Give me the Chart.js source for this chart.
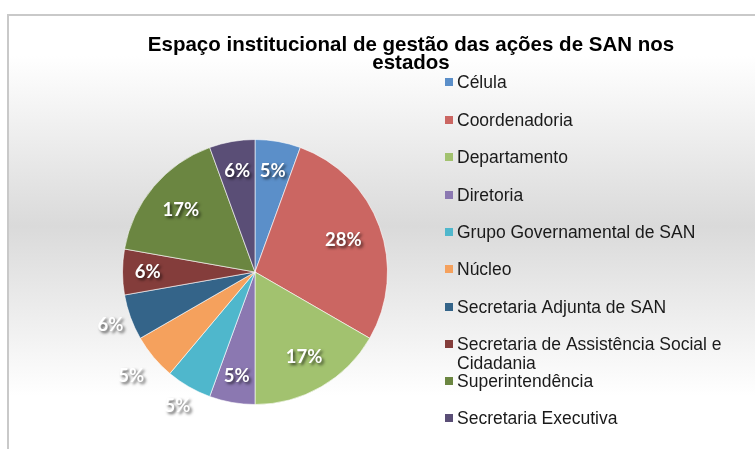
<!DOCTYPE html>
<html>
<head>
<meta charset="utf-8">
<script src="https://cdn.jsdelivr.net/npm/chart.js@4"></script>
<style>
  html, body { margin: 0; padding: 0; background: #fff; }
  #wrap { position: relative; width: 755px; height: 449px; overflow: hidden; }
  #frame {
    position: absolute; left: 7px; top: 14px; width: 800px; height: 500px;
    border-left: 2px solid #c9c9c9; border-top: 2px solid #c9c9c9;
    background: linear-gradient(to bottom, #ffffff 0px, #ffffff 40px, #dadada 210px, #f4f4f4 330px, #ffffff 380px, #ffffff 500px);
  }
  canvas { position: absolute; left: 0; top: 0; }
</style>
</head>
<body>
<div id="wrap">
  <div id="frame"></div>
  <canvas id="chart" width="755" height="449"></canvas>
</div>
<script>
// dados do gráfico
const categorias = ['Célula', 'Coordenadoria', 'Departamento', 'Diretoria', 'Grupo Governamental de SAN',
  'Núcleo', 'Secretaria Adjunta de SAN', 'Secretaria de Assistência Social e Cidadania',
  'Superintendência', 'Secretaria Executiva'];
const quantidades = [1, 5, 3, 1, 1, 1, 1, 1, 3, 1];
const rotulos = ['5%', '28%', '17%', '5%', '5%', '5%', '6%', '6%', '17%', '6%'];
const cores = ['#5b8fc9', '#cb6662', '#a2c26f', '#8b78b1', '#4fb7cc', '#f5a15d',
  '#346489', '#843d3b', '#6b8641', '#5a4e76'];
const titulo = ['Espaço institucional de gestão das ações de SAN nos', 'estados'];

// distância do rótulo ao centro (fração do raio)
const distRotulo = [0.77, 0.71, 0.74, 0.80, 1.17, 1.22, 1.16, 0.81, 0.73, 0.77];

const desenhoExtra = {
  id: 'desenhoExtra',
  afterDraw(chart) {
    const ctx = chart.ctx;
    ctx.save();

    // título
    ctx.fillStyle = '#000';
    ctx.font = 'bold 20.5px "Liberation Sans", Arial, sans-serif';
    ctx.textAlign = 'center';
    ctx.textBaseline = 'middle';
    ctx.fillText(titulo[0], 411, 45);
    ctx.fillText(titulo[1], 411, 63);

    // rótulos das fatias
    const meta = chart.getDatasetMeta(0);
    ctx.font = 'bold 18.5px Lato, "Open Sans", sans-serif';
    meta.data.forEach((arc, i) => {
      const p = arc.getProps(['x', 'y', 'startAngle', 'endAngle', 'outerRadius']);
      const ang = (p.startAngle + p.endAngle) / 2;
      const r = p.outerRadius * distRotulo[i];
      const x = p.x + Math.cos(ang) * r;
      const y = p.y + Math.sin(ang) * r;
      ctx.shadowColor = 'rgba(0,0,0,0.65)';
      ctx.shadowBlur = 3;
      ctx.shadowOffsetX = 2;
      ctx.shadowOffsetY = 2;
      ctx.fillStyle = '#ffffff';
      ctx.fillText(rotulos[i], x, y);
    });
    ctx.shadowColor = 'transparent';

    // legenda
    ctx.font = '17.5px "Liberation Sans", Arial, sans-serif';
    ctx.textAlign = 'left';
    const x0 = 445;
    const passos = [83, 121, 158, 196, 233, 270, 308, 345, 382, 419];
    categorias.forEach((nome, i) => {
      const y = passos[i];
      ctx.fillStyle = cores[i];
      ctx.fillRect(x0, y - 5, 8, 8);
      ctx.fillStyle = '#1a1a1a';
      if (nome === 'Secretaria de Assistência Social e Cidadania') {
        ctx.fillText('Secretaria de Assistência Social e', x0 + 12, y);
        ctx.fillText('Cidadania', x0 + 12, y + 19);
      } else {
        ctx.fillText(nome, x0 + 12, y);
      }
    });
    ctx.restore();
  }
};

const ctx = document.getElementById('chart').getContext('2d');
const chart = new Chart(ctx, {
  type: 'pie',
  data: {
    labels: categorias,
    datasets: [{
      data: quantidades,
      backgroundColor: cores,
      borderColor: 'rgba(255,255,255,0.6)',
      borderWidth: 1
    }]
  },
  options: {
    responsive: false,
    animation: false,
    layout: {
      padding: { left: 122, right: 367, top: 139, bottom: 44 }
    },
    plugins: {
      legend: { display: false },
      tooltip: { enabled: false },
      title: { display: false }
    }
  },
  plugins: [desenhoExtra]
});
</script>
</body>
</html>
